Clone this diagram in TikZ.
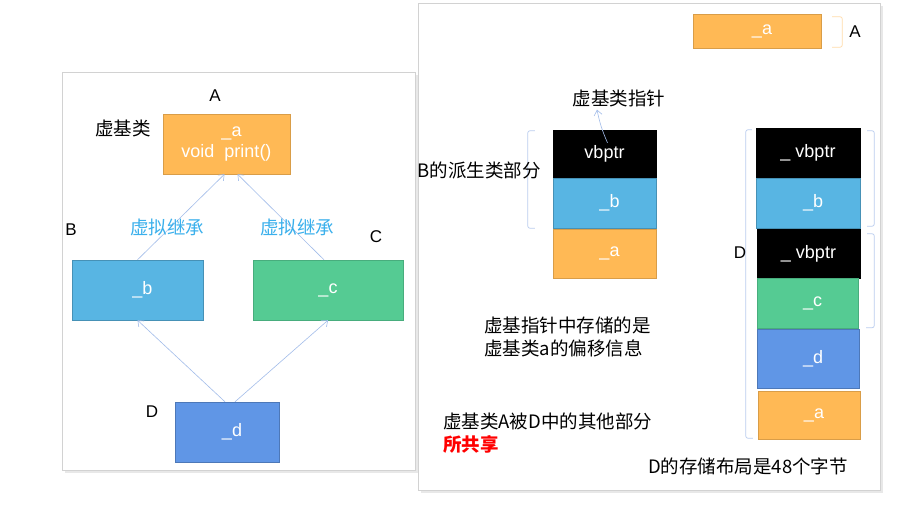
\documentclass[tikz,border=0pt]{standalone}
\usepackage{fontspec}
\setmainfont{Liberation Sans}
\newfontfamily\cjk{Noto Sans CJK SC}
\usetikzlibrary{positioning,arrows.meta}
\definecolor{cellorange}{HTML}{FFB955}
\definecolor{cellblue}{HTML}{58B5E3}
\definecolor{cellgreen}{HTML}{55CB93}
\definecolor{celldblue}{HTML}{6096E6}
\definecolor{linkblue}{HTML}{A3BDEA}
\definecolor{labelcyan}{HTML}{3BB0EC}
\definecolor{panelgray}{HTML}{D2D2D2}
\tikzset{
    every node/.style={font=\fontsize{17}{20}\selectfont},
    cell/.style={draw,inner sep=0pt,text=white,align=center,font=\fontsize{18}{21}\selectfont},
    acell/.style={cell,fill=cellorange,draw=cellorange!85!black},
    bcell/.style={cell,fill=cellblue,draw=cellblue!80!black},
    ccell/.style={cell,fill=cellgreen,draw=cellgreen!85!black},
    dcell/.style={cell,fill=celldblue,draw=celldblue!80!black},
    ptrcell/.style={cell,fill=black,draw=black},
    cjklabel/.style={font=\cjk\fontsize{18.5}{23}\selectfont,inner sep=0pt},
    letter/.style={inner sep=0pt},
    link/.style={draw=linkblue,line width=0.6pt,-{Straight Barb[length=5pt,width=8pt]}},
    bracket/.style={draw=linkblue!75,rounded corners=2pt,line width=0.7pt},
    panel/.style={draw=panelgray,fill=white,line width=0.6pt}
}
\begin{document}
\begin{tikzpicture}[x=1pt,y=-1pt]
\useasboundingbox (0,0) rectangle (921,518);
% panels
\fill[gray!18] (65,75) rectangle (418,473);
\draw[panel] (62,72) rectangle (415,470);
\fill[gray!18] (421,6) rectangle (883,493);
\draw[panel] (418,3) rectangle (880,490);

% inheritance diagram
\node[acell,minimum width=127pt,minimum height=60pt] (na) at (226.5,144) {\ \ \_a\\void\ \ print()};
\node[bcell,minimum width=131pt,minimum height=60pt] (nb) at (137.5,290) {\ \ \_b};
\node[ccell,minimum width=150pt,minimum height=60pt] (nc) at (328,290) {\_c};
\node[dcell,minimum width=104pt,minimum height=60pt] (nd) at (227,432) {\ \ \_d};
\node[letter] (la) at (215,96) {A};
\node[letter] (lb) at (71,230) {B};
\node[letter] (lc) at (376,237) {C};
\node[letter] (ld) at (152,412) {D};
\node[cjklabel] (vbase) at (123,128) {虚基类};
\draw[link] (nb.north) -- ([xshift=-2pt]na.south);
\draw[link] ([xshift=-4pt]nc.north) -- ([xshift=11pt]na.south);
\draw[link] ([xshift=-2pt]nd.north) -- (nb.south);
\draw[link] ([xshift=8pt]nd.north) -- (nc.south);
\node[cjklabel,text=labelcyan] (vinh1) at (167,227) {虚拟继承};
\node[cjklabel,text=labelcyan] (vinh2) at (297,227) {虚拟继承};

% layout of A
\node[acell,minimum width=128pt,minimum height=34pt] (ta) at (757,31) {\ \ \_a};
\draw[bracket,draw=cellorange!50] ([xshift=11pt,yshift=-3pt]ta.north east) -- ++(10,0) |- ([xshift=11pt,yshift=1pt]ta.south east);
\node[letter] (tl) at (855,32) {A};

% layout of B
\node[ptrcell,minimum width=103pt,minimum height=48pt] (lv) at (604.5,154) {vbptr};
\node[bcell,minimum width=103pt,minimum height=50pt] (lbb) at (604.5,203) {\ \ \_b};
\node[acell,minimum width=103pt,minimum height=49pt] (lba) at (604.5,253.5) {\ \ \_a};
\draw[bracket] ([xshift=-18pt,yshift=-1pt]lv.north west) -- ++(-7,0) |- ([xshift=-18pt]lbb.south west);
\node[cjklabel,anchor=east] (bpart) at (541,170) {B的派生类部分};
\node[cjklabel] (ptr) at (619,98) {虚基类指针};
\draw[link] ([xshift=3pt,yshift=-13pt]lv.north) to[bend left=6] ([xshift=-22pt,yshift=-3pt]ptr.south);

% layout of D
\node[ptrcell,minimum width=104pt,minimum height=50pt] (rv1) at (808,153) {\_ vbptr};
\node[bcell,minimum width=104pt,minimum height=50pt] (rb) at (808,203) {\ \ \_b};
\node[ptrcell,minimum width=103pt,minimum height=49pt] (rv2) at (808.5,253.5) {\_ vbptr};
\node[ccell,minimum width=101pt,minimum height=50pt] (rc) at (807.5,303.5) {\ \ \_c};
\node[dcell,minimum width=102pt,minimum height=59pt] (rd) at (808,358.5) {\ \ \_d};
\node[acell,minimum width=102pt,minimum height=48pt] (ra) at (809,415) {\ \ \_a};
\draw[bracket] ([xshift=-4pt,yshift=-2pt]rv1.north west) -- ++(-6,0) |- ([xshift=-5pt,yshift=1pt]ra.south west);
\draw[bracket] ([xshift=7pt,yshift=-3pt]rv1.north east) -- ++(7,0) |- ([xshift=7pt,yshift=2pt]rb.south east);
\draw[bracket] ([xshift=7pt,yshift=-5pt]rv2.north east) -- ++(7,0) |- ([xshift=8pt,yshift=1pt]rc.south east);
\node[letter] (dl) at (740,253) {D};

% notes
\node[cjklabel,anchor=north west,align=left] (offset) at (484,317) {虚基指针中存储的是\\虚基类a的偏移信息};
\node[cjklabel,anchor=north west] (shared) at (443,413) {虚基类A被D中的其他部分};
\node[cjklabel,anchor=north west,text=red,font=\cjk\bfseries\fontsize{18.5}{23}\selectfont] (share2) at (443,435) {所共享};
\node[cjklabel,anchor=north west] (size) at (648,458) {D的存储布局是48个字节};
\end{tikzpicture}
\end{document}
